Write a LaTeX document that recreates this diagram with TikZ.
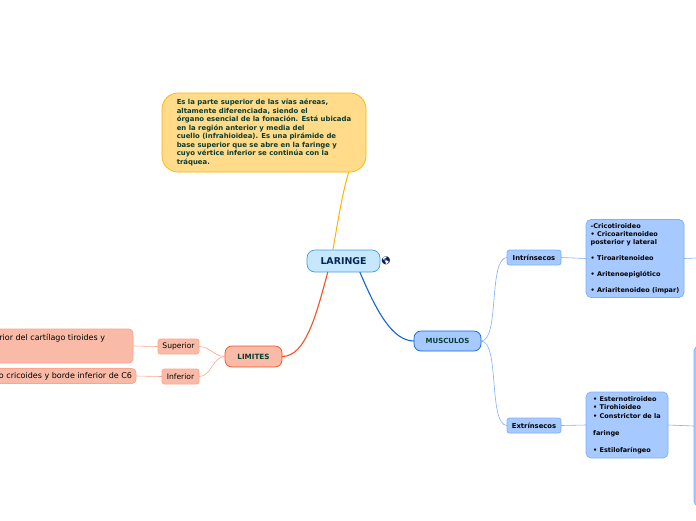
\documentclass[tikz,border=0pt]{standalone}
\usepackage{fontspec}
\setmainfont{DejaVu Sans}
\newfontfamily\globefont{Noto Emoji}
\usepackage{xcolor}
\usetikzlibrary{arrows.meta,positioning}
\definecolor{textgreen}{RGB}{10,60,50}
\definecolor{textnavy}{RGB}{10,35,85}
\definecolor{yellowfill}{RGB}{255,219,138}
\definecolor{yellowline}{RGB}{255,179,0}
\definecolor{skyfill}{RGB}{197,232,255}
\definecolor{skyline}{RGB}{70,155,215}
\definecolor{salmonfill}{RGB}{249,187,168}
\definecolor{salmonline}{RGB}{245,80,30}
\definecolor{salmonsoft}{RGB}{252,165,140}
\definecolor{bluefill}{RGB}{166,202,255}
\definecolor{blueline}{RGB}{20,100,220}
\definecolor{bluesoft}{RGB}{125,175,250}
\begin{document}
\begin{tikzpicture}[
    x=1pt,y=-1pt,
    boxnode/.style={draw,line width=0.7pt,inner sep=0pt,outer sep=0pt,
                    align=left},
    central/.style={boxnode,rounded corners=8pt,fill=skyfill,draw=skyline,
                    minimum width=73pt,minimum height=22pt,align=center,
                    text=textnavy,font=\fontsize{9.4}{10}\selectfont\bfseries},
    note/.style={boxnode,rounded corners=16pt,fill=yellowfill,draw=yellowline,
                 minimum width=204pt,minimum height=79pt,text=textgreen,
                 font=\fontsize{6.9}{8.45}\selectfont\bfseries},
    mainred/.style={boxnode,rounded corners=7pt,fill=salmonfill,draw=salmonline,
                    minimum width=57pt,minimum height=21pt,align=center,
                    text=textgreen,font=\fontsize{7.2}{8}\selectfont\bfseries},
    mainblue/.style={boxnode,rounded corners=7pt,fill=bluefill,draw=blueline,
                     minimum width=67pt,minimum height=20pt,align=center,
                     text=textgreen,font=\fontsize{7}{8}\selectfont\bfseries},
    subred/.style={boxnode,rounded corners=2.5pt,fill=salmonfill,draw=salmonsoft,
                   align=center,minimum height=15pt,
                   font=\fontsize{7.6}{8}\selectfont},
    leafred/.style={boxnode,rounded corners=4pt,fill=salmonfill,draw=salmonsoft,
                    font=\fontsize{8}{9}\selectfont},
    subblue/.style={boxnode,rounded corners=2.5pt,fill=bluefill,draw=bluesoft,
                    align=center,minimum width=54pt,minimum height=15pt,
                    font=\fontsize{6.8}{8}\selectfont\bfseries},
    leafblue/.style={boxnode,rounded corners=5pt,fill=bluefill,draw=bluesoft,
                     font=\fontsize{6.5}{8}\selectfont\bfseries},
    linkred/.style={salmonsoft,line width=0.6pt},
    linkblue/.style={bluesoft,line width=0.6pt},
  ]
    \useasboundingbox (0,0) rectangle (696,520);
    \clip (0,0) rectangle (696,520);

    \coordinate (off1) at (697,258);

    \node[central](laringe) at (343.5,261){LARINGE};
    \node[font=\globefont\fontsize{8}{9}\selectfont,text=textnavy,inner sep=0pt](globe)
      at (386,261){\symbol{"1F30E}};
    \node[note](descr) at (264,132.5){%
      Es la parte superior de las vías aéreas,\\
      altamente diferenciada, siendo el\\
      órgano esencial de la fonación. Está ubicada\\
      en la región anterior y media del\\
      cuello (infrahioidea). Es una pirámide de\\
      base superior que se abre en la faringe y\\
      cuyo vértice inferior se continúa con la\\
      tráquea.};
    \node[mainred](limites) at (253.5,356.5){LIMITES};
    \node[mainblue](musculos) at (447.5,341){MUSCULOS};

    \node[subred,minimum width=41pt](superior) at (178.5,346.5){Superior};
    \node[subred,minimum width=37pt](inferior) at (180.5,376.5){Inferior};
    \node[leafred,anchor=east,inner xsep=28pt,minimum height=34pt](limsup)
      at (133,346){rior del cartílago tiroides y\\~\\~};
    \node[leafred,anchor=east,inner xsep=4pt,minimum height=15pt](liminf)
      at (136,376){o cricoides y borde inferior de C6};

    \node[subblue](intrin) at (534,257.5){Intrínsecos};
    \node[subblue](extrin) at (534,425.5){Extrínsecos};
    \node[leafblue,minimum width=98pt,minimum height=78pt](leafa)
      at (635,258.5){%
      -Cricotiroideo\\
      • Cricoaritenoideo\\
      posterior y lateral\\
      ~\\
      • Tiroaritenoideo\\
      ~\\
      • Aritenoepiglótico\\
      ~\\
      • Ariaritenoideo (impar)};
    \node[leafblue,font=\fontsize{6.5}{8.5}\selectfont\bfseries,
      minimum width=82pt,minimum height=66pt](leafb)
      at (627,425){%
      • Esternotiroideo\\
      • Tirohioideo\\
      • Constrictor de la\\
      ~\\
      faringe\\
      ~\\
      • Estilofaríngeo};
    \node[leafblue,minimum width=40pt,minimum height=160pt](leafc) at (714,426){};

    % connectors
    \draw[yellowline,line width=1pt](laringe.134) .. controls (339,215) and (342,195) .. (descr.-25);
    \draw[salmonline,line width=1.1pt](laringe.215) .. controls (317,312) and (306,357) .. (limites.east);
    \draw[blueline,line width=1.1pt](laringe.-34) .. controls (376,310) and (392,341) .. (musculos.west);

    \draw[linkblue](musculos.east) .. controls (500,341) and (488,258) .. (intrin.west);
    \draw[linkblue](musculos.east) .. controls (500,341) and (488,425) .. (extrin.west);
    \draw[linkblue](intrin.east)--(leafa.west);
    \draw[linkblue](extrin.east)--(leafb.west);
    \draw[linkblue](leafa.east)--(off1);
    \draw[linkblue](leafb.east)--(leafc.west);

    \draw[linkred](limites.west) to[out=180,in=0] (superior.east);
    \draw[linkred](limites.west) to[out=180,in=0] (inferior.east);
    \draw[linkred](superior.west)--(limsup.east);
    \draw[linkred](inferior.west)--(liminf.east);
  \end{tikzpicture}
\end{document}
